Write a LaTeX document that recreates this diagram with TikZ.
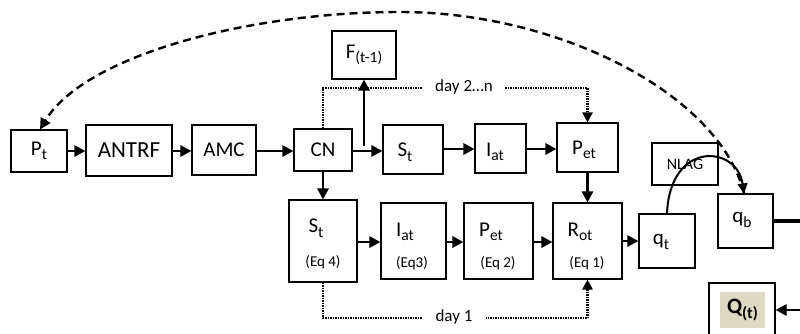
\documentclass[tikz,border=0pt]{standalone}
\usepackage{fontspec}
\setmainfont{Carlito}
\usetikzlibrary{arrows.meta,calc}
\definecolor{qfill}{HTML}{DDD9C3}
\newcommand\sbs[1]{\raisebox{-0.22em}{\scalebox{0.74}{#1}}}
\begin{document}
\begin{tikzpicture}[x=1pt,y=-1pt,
  box/.style={draw, line width=1.1pt, inner sep=0pt, font=\fontsize{21}{24}\selectfont},
  lbl/.style={inner sep=0pt, font=\fontsize{21}{24}\selectfont},
  eqlbl/.style={inner sep=0pt, font=\fontsize{15}{18}\selectfont},
  daylbl/.style={inner sep=0pt, font=\fontsize{17}{20}\selectfont},
  arr/.style={line width=2.8pt, -{Triangle[length=11pt,width=11pt]}},
  dotline/.style={line width=2.4pt, dash pattern=on 1.5pt off 1pt},
  dashline/.style={line width=2.4pt, dash pattern=on 8pt off 5pt},
  curvearr/.style={line width=2pt, -{Triangle[length=10pt,width=10pt]}}
]
\useasboundingbox (0,0) rectangle (800,333);

% upper row
\node[box, minimum width=56pt, minimum height=42pt] (pt) at (39,151) {P\sbs{t}};
\node[box, minimum width=86pt, minimum height=51pt, font=\fontsize{23}{26}\selectfont] (antrf) at (129,150.5) {ANTRF};
\node[box, minimum width=64pt, minimum height=50pt] (amc) at (224,150) {AMC};
\node[box, minimum width=58pt, minimum height=42pt] (cn) at (323,150) {CN};
\node[box, minimum width=64pt, minimum height=48pt] (f) at (364,55) {F\sbs{(t-1)}};
\node[box, minimum width=60pt, minimum height=49pt] (st1) at (413,149.5) {};
\node[lbl] (st1t) at (405,152) {S\sbs{t}};
\node[box, minimum width=51pt, minimum height=49pt] (iat1) at (500.5,148.5) {};
\node[lbl] (iat1t) at (495,152) {I\sbs{at}};
\node[box, minimum width=61pt, minimum height=49pt] (pet1) at (587.5,147.5) {};
\node[lbl] (pet1t) at (584,150) {P\sbs{et}};

% lower row
\node[box, minimum width=68pt, minimum height=82pt] (st2) at (323,241) {};
\node[lbl] (st2t) at (316,228) {S\sbs{t}};
\node[eqlbl] (st2e) at (323,262) {(Eq 4)};
\node[box, minimum width=65pt, minimum height=76pt] (iat2) at (413.5,241) {};
\node[lbl] (iat2t) at (405,232) {I\sbs{at}};
\node[eqlbl] (iat2e) at (412,263) {(Eq3)};
\node[box, minimum width=69pt, minimum height=76pt] (pet2) at (498.5,241) {};
\node[lbl] (pet2t) at (491,232) {P\sbs{et}};
\node[eqlbl] (pet2e) at (498,263) {(Eq 2)};
\node[box, minimum width=69pt, minimum height=76pt] (rot) at (587.5,241) {};
\node[lbl] (rott) at (580,232) {R\sbs{ot}};
\node[eqlbl] (rote) at (587,263) {(Eq 1)};

% right part
\node[box, minimum width=56pt, minimum height=54pt] (qt) at (667,241) {};
\node[lbl] (qtt) at (661,242) {q\sbs{t}};
\node[box, minimum width=66pt, minimum height=42pt, font=\fontsize{16}{19}\selectfont] (nlag) at (685,164) {NLAG};
\node[box, minimum width=55pt, minimum height=54pt] (qb) at (745.5,221) {};
\node[lbl] (qbt) at (742,220) {q\sbs{b}};
\node[box, minimum width=66pt, minimum height=62pt] (qbox) at (742,314) {};
\node[fill=qfill, minimum width=45pt, minimum height=36pt, inner sep=0pt, font=\bfseries\fontsize{22}{26}\selectfont] (qtext) at (742.5,310) {Q\sbs{(t)}};

% arrows upper row
\draw[arr] (pt.east |- 0,151) -- (antrf.west |- 0,151);
\draw[arr] (antrf.east |- 0,151) -- (amc.west |- 0,151);
\draw[arr] (amc.east |- 0,151) -- (cn.west |- 0,151);
\draw[arr] (cn.east |- 0,151) -- (st1.west |- 0,151);
\draw[arr] (f.south |- 0,146) -- (f.south);
\draw[arr] (st1.east |- 0,149) -- (iat1.west |- 0,149);
\draw[arr] (iat1.east |- 0,149) -- (pet1.west |- 0,149);
\draw[arr] (pet1.south) -- (rot.north);

% arrows lower row
\draw[arr] (cn.south) -- (st2.north);
\draw[arr] (st2.east |- 0,242) -- (iat2.west |- 0,242);
\draw[arr] (iat2.east |- 0,242) -- (pet2.west |- 0,242);
\draw[arr] (pet2.east |- 0,242) -- (rot.west |- 0,242);
\draw[arr] (rot.east) -- (qt.west);

% day lines
\coordinate (d2a) at (cn.north |- 0,88);
\coordinate (d2b) at (pet1.north |- 0,88);
\draw[dotline] (cn.north) -- (d2a) -- (d2b);
\draw[dotline, -{Triangle[length=10pt,width=10pt]}] (d2b) -- (pet1.north);
\node[daylbl, fill=white, inner xsep=12pt, inner ysep=3pt] (day2) at (464,87) {day 2…n};

\coordinate (d1a) at (st2.south |- 0,318);
\coordinate (d1b) at (rot.south |- 0,318);
\draw[dotline] (st2.south) -- (d1a) -- (d1b);
\draw[dotline, -{Triangle[length=10pt,width=10pt]}] (d1b) -- (rot.south);
\node[daylbl, fill=white, inner xsep=14pt, inner ysep=3pt] (day1) at (454,317) {day 1};

% NLAG routing curve
\draw[curvearr] (qt.north -| 667,0) .. controls (670,140) and (737,145) .. (qb.north -| 744,0);

% dashed feedback
\draw[dashline, -{Triangle[length=11pt,width=11pt]}] (qb.north -| 744,0) .. controls (720,95) and (560,12) .. (400,12) .. controls (250,12) and (85,55) .. (pt.north -| 40,0);

% right side connectors
\coordinate (r1) at (800,221);
\draw[line width=4.5pt] (qb.east) -- (r1);
\coordinate (r2) at (800,310);
\draw[arr] (r2) -- (qbox.east |- r2);
\end{tikzpicture}
\end{document}
